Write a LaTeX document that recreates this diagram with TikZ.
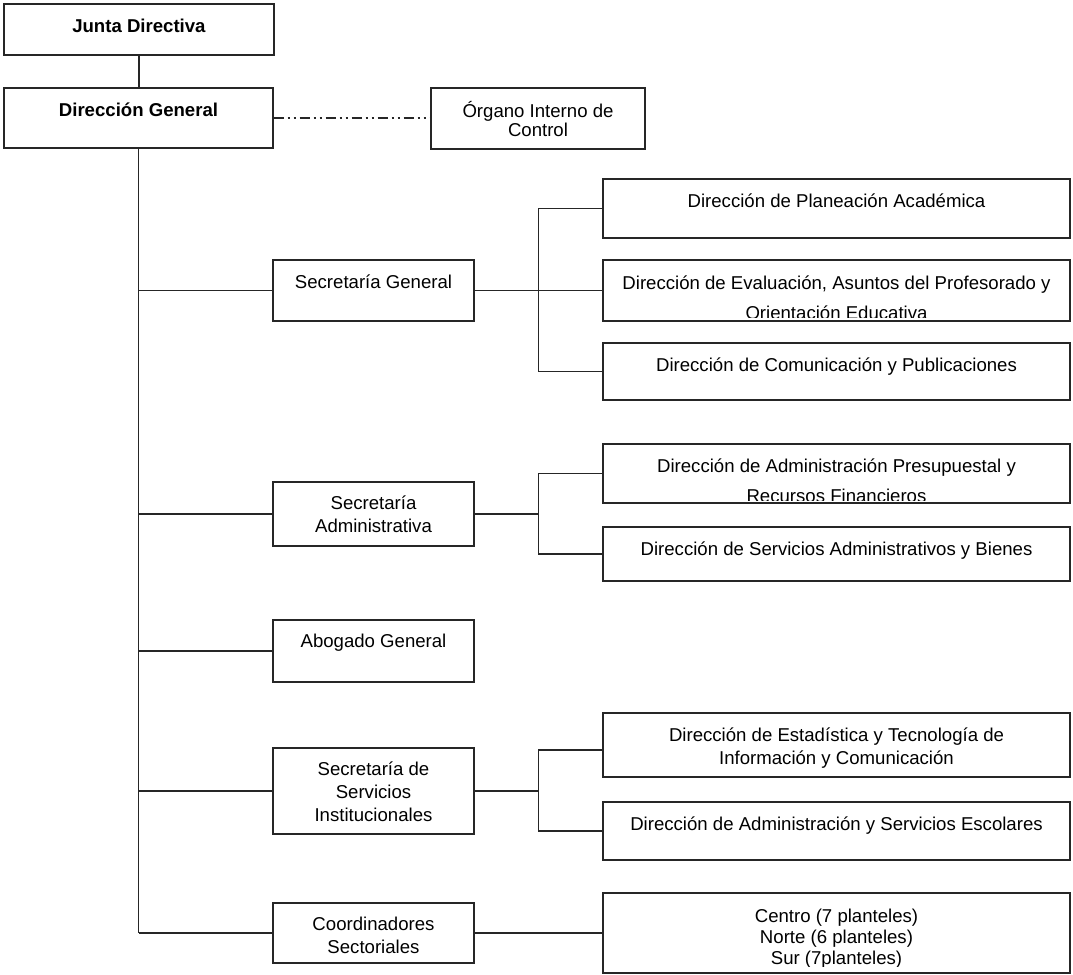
\documentclass[tikz,border=0pt]{standalone}
\usepackage{fontspec}
\setmainfont{Liberation Sans}
\usepackage{tikz}
\usetikzlibrary{fit}

\begin{document}
\begin{tikzpicture}[x=0.5pt, y=-0.5pt,
  box/.style={draw=black!85, line width=0.6pt, inner sep=0pt, fit={#1}},
  txt/.style={font=\fontsize{9.3}{10.5}\selectfont, align=center, anchor=base, inner sep=0pt},
  link/.style={draw=black!85, line width=0.6pt}]
  \useasboundingbox (0,0) rectangle (1073,975);

  \node[box={(4,4) (274,55)}] (jd) {};
  \node[box={(4,88) (273,148)}] (dg) {};
  \node[box={(431,88) (645,149)}] (oic) {};
  \node[box={(273,260) (474,321)}] (sg) {};
  \node[box={(603,179) (1070,238)}] (dpa) {};
  \node[box={(603,260) (1070,321)}] (dev) {};
  \node[box={(603,343) (1070,400)}] (dcp) {};
  \node[box={(273,482) (474,546)}] (sa) {};
  \node[box={(603,444) (1070,503)}] (dap) {};
  \node[box={(603,527) (1070,581)}] (dsa) {};
  \node[box={(273,620) (474,682)}] (ag) {};
  \node[box={(273,748) (474,834)}] (ssi) {};
  \node[box={(603,713) (1070,777)}] (det) {};
  \node[box={(603,802) (1070,860)}] (dae) {};
  \node[box={(273,903) (474,963)}] (cs) {};
  \node[box={(603,893) (1070,973)}] (centro) {};

  % the yshift is down to the baseline of the last line
  \node[txt] (jd-t) at ([yshift=-14.5pt]jd.north) {\textbf{Junta Directiva}};
  \node[txt] (dg-t) at ([yshift=-14.5pt]dg.north) {\textbf{Dirección General}};
  \node[txt] (oic-t) at ([yshift=-24.5pt]oic.north) {Órgano Interno de\\[-1pt]Control};
  \node[txt] (sg-t) at ([yshift=-14.5pt]sg.north) {Secretaría General};
  \node[txt] (dpa-t) at ([yshift=-14.5pt]dpa.north) {Dirección de Planeación Académica};
  \begin{scope}
    \clip (dev.north west) rectangle ([yshift=2pt]dev.south east);
    \node[txt] (dev-t) at ([yshift=-30pt]dev.north)
      {Dirección de Evaluación, Asuntos del Profesorado y\\[4.5pt]Orientación Educativa};
  \end{scope}
  \node[txt] (dcp-t) at ([yshift=-14.5pt]dcp.north) {Dirección de Comunicación y Publicaciones};
  \node[txt] (sa-t) at ([yshift=-25.5pt]sa.north) {Secretaría\\[1pt]Administrativa};
  \begin{scope}
    \clip (dap.north west) rectangle ([yshift=1.5pt]dap.south east);
    \node[txt] (dap-t) at ([yshift=-29.5pt]dap.north)
      {Dirección de Administración Presupuestal y\\[4.5pt]Recursos Financieros};
  \end{scope}
  \node[txt] (dsa-t) at ([yshift=-14.5pt]dsa.north) {Dirección de Servicios Administrativos y Bienes};
  \node[txt] (ag-t) at ([yshift=-14pt]ag.north) {Abogado General};
  \node[txt] (ssi-t) at ([yshift=-37pt]ssi.north) {Secretaría de\\[1pt]Servicios\\[1pt]Institucionales};
  \node[txt] (det-t) at ([yshift=-26pt]det.north)
    {Dirección de Estadística y Tecnología de\\[1pt]Información y Comunicación};
  \node[txt] (dae-t) at ([yshift=-14.5pt]dae.north) {Dirección de Administración y Servicios Escolares};
  \node[txt] (cs-t) at ([yshift=-25.5pt]cs.north) {Coordinadores\\[1pt]Sectoriales};
  \begin{scope}
    \clip (centro.north west) rectangle ([yshift=3.5pt]centro.south east);
    \node[txt] (centro-t) at ([yshift=-36pt]centro.north)
      {Centro (7 planteles)\\Norte (6 planteles)\\Sur (7planteles)};
  \end{scope}

  \draw[link] (jd.south) -- (jd.south |- dg.north);
  \draw[link, dash pattern=on 5pt off 2pt on 1pt off 2pt on 1pt off 2pt]
    (dg.east) -- (dg.east -| oic.west);
  \draw[link] (dg.south) -- (dg.south |- cs.west);
  \foreach \n in {sg,sa,ag,ssi,cs}
    \draw[link] (dg.south |- \n.west) -- (\n.west);

  \draw[link] (sg.east) -- ++(64,0) coordinate (h1) -- (dev.west);
  \draw[link] (dpa.west) -| (h1 |- dcp.west) -- (dcp.west);
  \draw[link] (sa.east) -- ++(64,0) coordinate (h2);
  \draw[link] (dap.west) -| (h2 |- dsa.west) -- (dsa.west);
  \draw[link, line width=0.9pt] (ssi.east) -- ++(64,0) coordinate (h3);
  \draw[link] ([yshift=-2.5pt]det.west) -| (h3 |- dae.west) -- (dae.west);
  \draw[link] (cs.east) -- (cs.east -| centro.west);
\end{tikzpicture}
\end{document}
